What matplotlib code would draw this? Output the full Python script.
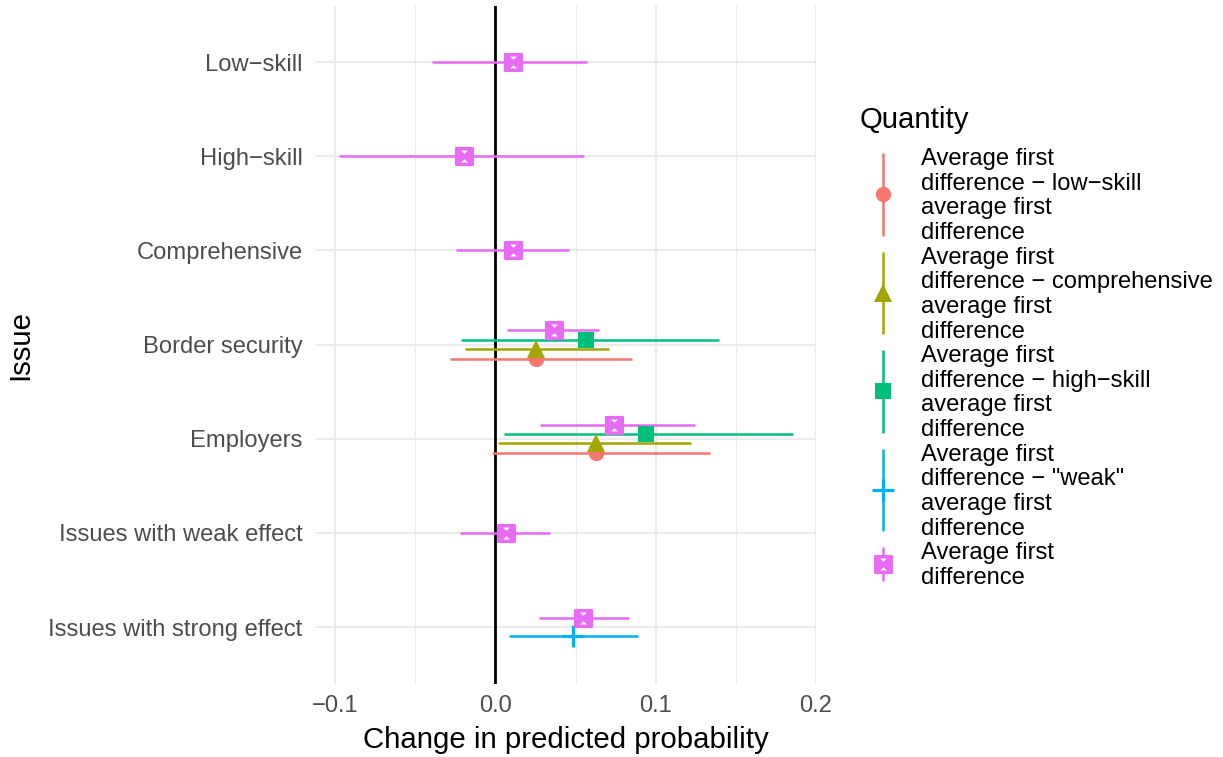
import numpy as np
import matplotlib
matplotlib.use("Agg")
import matplotlib.pyplot as plt
from matplotlib.path import Path

plt.rcParams['font.family'] = ['Liberation Sans', 'DejaVu Sans']

# ---------------- data ----------------
issues = ["Low−skill", "High−skill", "Comprehensive", "Border security",
          "Employers", "Issues with weak effect", "Issues with strong effect"]
nan = np.nan

low_est = [nan, nan, nan, 0.0256, 0.0628, nan, nan]
low_lo = [nan, nan, nan, -0.0283, -0.0021, nan, nan]
low_hi = [nan, nan, nan, 0.0853, 0.1339, nan, nan]

comp_est = [nan, nan, nan, 0.0256, 0.0628, nan, nan]
comp_lo = [nan, nan, nan, -0.0187, 0.0017, nan, nan]
comp_hi = [nan, nan, nan, 0.0711, 0.1223, nan, nan]

high_est = [nan, nan, nan, 0.0566, 0.0940, nan, nan]
high_lo = [nan, nan, nan, -0.0212, 0.0054, nan, nan]
high_hi = [nan, nan, nan, 0.1397, 0.1859, nan, nan]

weak_est = [nan, nan, nan, nan, nan, nan, 0.0483]
weak_lo = [nan, nan, nan, nan, nan, nan, 0.0087]
weak_hi = [nan, nan, nan, nan, nan, nan, 0.0888]

avg_est = [0.0112, -0.0197, 0.0112, 0.0368, 0.0740, 0.0069, 0.0549]
avg_lo = [-0.0397, -0.0979, -0.0245, 0.0075, 0.0279, -0.0218, 0.0271]
avg_hi = [0.0570, 0.0553, 0.0462, 0.0645, 0.1244, 0.0341, 0.0836]

series_labels = [
    ["Average first", "difference − low−skill", "average first", "difference"],
    ["Average first", "difference − comprehensive", "average first", "difference"],
    ["Average first", "difference − high−skill", "average first", "difference"],
    ["Average first", "difference − \"weak\"", "average first", "difference"],
    ["Average first", "difference"],
]
xticks = [-0.1, 0.0, 0.1, 0.2]
xtick_labels = ["−0.1", "0.0", "0.1", "0.2"]

# ---------------- styles ----------------
colors = ["#F8766D", "#A3A500", "#00BF7D", "#00B0F6", "#E76BF3"]
box_x = Path([(-1, -1), (1, -1), (1, 1), (-1, 1), (-1, -1),
              (-1, -1), (1, 1), (1, -1), (-1, 1)],
             [Path.MOVETO, Path.LINETO, Path.LINETO, Path.LINETO, Path.CLOSEPOLY,
              Path.MOVETO, Path.LINETO, Path.MOVETO, Path.LINETO])
hourglass = Path([(-0.55, 1), (0.55, 1), (0, 0.45), (-0.55, 1),
                  (-0.55, -1), (0.55, -1), (0, -0.45), (-0.55, -1)],
                 [Path.MOVETO, Path.LINETO, Path.LINETO, Path.CLOSEPOLY,
                  Path.MOVETO, Path.LINETO, Path.LINETO, Path.CLOSEPOLY])
marker_styles = [
    [dict(marker='o', ms=11, mfc=colors[0], mec=colors[0], mew=0)],
    [dict(marker='^', ms=13.5, mfc=colors[1], mec=colors[1], mew=0)],
    [dict(marker='s', ms=11.3, mfc=colors[2], mec=colors[2], mew=0)],
    [dict(marker='+', ms=16.5, mfc=colors[3], mec=colors[3], mew=2.3)],
    [dict(marker=box_x, ms=11.6, mfc=colors[4], mec=colors[4], mew=2.2),
     dict(marker=hourglass, ms=8.6, mfc='white', mec='none', mew=0)],
]

est = [low_est, comp_est, high_est, weak_est, avg_est]
los = [low_lo, comp_lo, high_lo, weak_lo, avg_lo]
his = [low_hi, comp_hi, high_hi, weak_hi, avg_hi]

W, H = 1223, 757
fig = plt.figure(figsize=(W / 100, H / 100), dpi=100)
ax = fig.add_axes([315.8 / W, 1 - 683.5 / H, (816.0 - 315.8) / W, (683.5 - 5.6) / H])

n = len(issues)
ypos = np.arange(n, 0, -1).astype(float)  # top issue at highest position

# dodge (width 0.4) among series present in each issue
E = np.array(est, dtype=float)
dodge_w = 0.4
offsets = np.zeros_like(E)
for j in range(n):
    present = [i for i in range(len(est)) if not np.isnan(E[i, j])]
    k = len(present)
    for r, i in enumerate(present):
        offsets[i, j] = -dodge_w / 2 + (r + 0.5) * dodge_w / k

ax.axvline(0, color='black', lw=2.0, zorder=2)
for i in range(len(est)):
    for j in range(n):
        if np.isnan(E[i, j]):
            continue
        y = ypos[j] + offsets[i, j]
        ax.plot([los[i][j], his[i][j]], [y, y], color=colors[i], lw=1.8,
                solid_capstyle='butt', zorder=3)
        for ms_ in marker_styles[i]:
            ax.plot([est[i][j]], [y], linestyle='none', zorder=4, **ms_)

allv = np.concatenate([np.array(l, float) for l in los] + [np.array(h, float) for h in his])
allv = allv[~np.isnan(allv)]
lo_, hi_ = min(allv.min(), 0), max(allv.max(), 0)
pad = (hi_ - lo_) * 0.05
ax.set_xlim(lo_ - pad, hi_ + pad)
ax.set_ylim(0.4, n + 0.6)

ax.set_yticks(ypos)
ax.set_yticklabels(issues)
ax.set_xticks(xticks)
ax.set_xticklabels(xtick_labels)
ax.set_xticks([-0.05, 0.05, 0.15], minor=True)
ax.tick_params(axis='both', which='both', length=0, labelsize=17.1, labelcolor='#4D4D4D')
ax.tick_params(axis='y', pad=9.5)
ax.tick_params(axis='x', pad=8.5)
ax.grid(True, which='major', color='#EBEBEB', lw=1.5, zorder=0)
ax.grid(True, which='minor', axis='x', color='#EBEBEB', lw=0.75, zorder=0)
ax.set_axisbelow(True)
for s in ax.spines.values():
    s.set_visible(False)
ax.set_xlabel("Change in predicted probability", fontsize=21.2, labelpad=6)
ax.set_ylabel("Issue", fontsize=21.2, labelpad=10)

# ---------------- legend ----------------
lax = fig.add_axes([0, 0, 1, 1])
lax.set_xlim(0, W)
lax.set_ylim(H, 0)
lax.axis('off')
lax.text(860, 128.3, "Quantity", fontsize=21.2, ha='left', va='baseline')
line_h = 24.65
base0 = 165.0
key_x = 882.5
line_idx = 0
for i, lab in enumerate(series_labels):
    nl = len(lab)
    first = line_idx
    for t in lab:
        lax.text(921, base0 + line_idx * line_h, t, fontsize=17.1, ha='left', va='baseline')
        line_idx += 1
    cy = 157.3 + (first + (nl - 1) / 2) * line_h
    half = nl * line_h / 2 - 8
    lax.plot([key_x, key_x], [cy - half, cy + half], color=colors[i], lw=1.8,
             solid_capstyle='butt')
    for ms_ in marker_styles[i]:
        lax.plot([key_x], [cy], linestyle='none', **ms_)

fig.savefig("out.png", dpi=100, facecolor='white')
